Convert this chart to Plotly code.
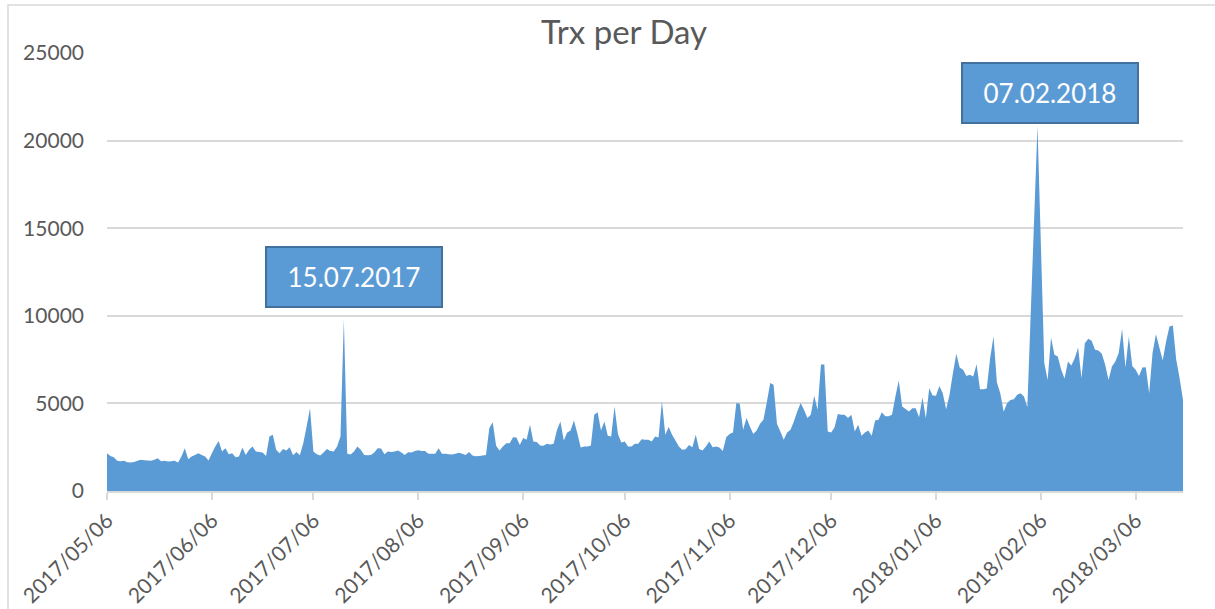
import pandas as pd
import plotly.graph_objects as go

# ---- data -------------------------------------------------------------
start_date = "2017-05-06"
# daily transaction counts (None = day missing from the series)
trx_per_day = [
    2150, 2000, 1930, 1720, 1700, 1720, 1640, 1620, 1660, 1720,
    1780, 1760, 1740, 1720, 1780, 1870, 1700, 1720, 1680, 1700,
    1720, 1620, 1970, 2440, 1810, 1970, 2060, 2160, 2060, 1970,
    1740, 2160, 2540, 2860, 2250, 2440, 2100, 2160, 1930, 1970,
    2480, 2060, 2350, 2540, 2250, 2230, 2200, 2000, 3110, 3210,
    2350, 2160, 2400, 2310, 2500, 2040, 2230, 2040, 2730, 3680,
    4730, 2250, 2100, 2020, 2200, 2400, 2290, 2250, 2540, 3110,
    9790, 2120, 2080, 2250, 2540, 2350, 2060, 2040, 2060, 2200,
    2440, 2420, 2100, 2250, 2230, 2250, 2310, 2200, 2060, 2210,
    2200, 2290, 2330, 2290, 2290, 2120, 2120, 2120, 2440, 2120,
    2120, 2100, 2080, 2120, 2180, 2120, 2060, 2230, 2020, 1990,
    2000, 2020, 2060, 3590, 3930, 2580, 2310, 2540, 2730, 2730,
    3070, 3050, 2630, 3020, 2920, 3780, 2830, 2790, 2600, 2580,
    2690, 2650, 2690, 3490, 3970, 2880, 3340, 3460, 4030, 3300,
    2480, 2540, 2540, 2600, 4350, 4490, 3460, 3970, 3150, 3110,
    4830, 3250, 2770, 2830, 2540, 2540, 2690, 2690, 2960, 2920,
    2920, 2830, 3110, 3050, 5120, 3210, 3650, 3210, 2880, 2540,
    2350, 2390, 2630, 2500, 3210, 2400, 2310, 2540, 2830, 2500,
    2540, 2480, 2290, 3070, 3250, 3340, 5020, 4980, 3490, 4160,
    3680, 3250, 3460, 3840, 4070, 5060, 6170, 6070, 3840, 3400,
    2920, 3340, 3490, 3970, 4540, 5020, 4640, 4160, 4350, 5440,
    4640, 7220, 7220, 3400, 3340, 3630, 4390, 4350, 4350, 4160,
    4350, 3400, 3780, 3150, 3340, 3460, 3150, 4030, 4070, 4490,
    4260, 4260, 4350, 5400, 6300, 4830, 4680, 4540, 4720, 4720,
    4210, 5330, 4150, 5870, 5450, 5430, 6000, 5580, 4670, 5490,
    6720, 7830, 7050, 6920, 6570, 6630, 6530, 7240, 5810, 5810,
    5850, 7580, 8820, 6190, 5580, 4530, 5010, 5200, 5240, 5490,
    5580, 5390, 4780, None, None, 20850, None, 7300, 6340, 8760,
    7770, 7680, 6920, 6420, 7390, 7160, 7580, 8190, 6440, 8440,
    8690, 8570, 8060, 8020, 7830, 7200, 6340, 7110, 7390, 7870,
    9240, 7050, 8820, 7140, 6920, 6570, 7050, 7070, 5580, 7870,
    8950, 8210, 7450, 8530, 9390, 9450, 7490, 6440, 5200,
]
tick_dates = ["2017-05-06", "2017-06-06", "2017-07-06", "2017-08-06",
              "2017-09-06", "2017-10-06", "2017-11-06", "2017-12-06",
              "2018-01-06", "2018-02-06", "2018-03-06"]
tick_labels = [d.replace("-", "/") for d in tick_dates]
y_ticks = [0, 5000, 10000, 15000, 20000, 25000]
y_tick_labels = ["0", "5000", "10000", "15000", "20000", "25000"]
chart_title = "Trx per Day"
peak_labels = ["15.07.2017", "07.02.2018"]

# ---- figure -----------------------------------------------------------
df = pd.DataFrame({
    "date": pd.date_range(start_date, periods=len(trx_per_day), freq="D"),
    "trx": trx_per_day,
}).dropna()

BLUE = "#5B9BD5"
GRID = "#D9D9D9"
TXT = "#595959"
FONT = "Lato"

fig = go.Figure(go.Scatter(
    x=df["date"], y=df["trx"], mode="none",
    fill="tozeroy", fillcolor=BLUE, hoverinfo="x+y",
))

fig.update_layout(
    width=1215, height=609,
    margin=dict(l=107, r=32, t=53, b=118, autoexpand=False),
    paper_bgcolor="white", plot_bgcolor="white",
    showlegend=False,
    font=dict(family=FONT, color=TXT, size=20),
    title=dict(text=chart_title, x=0.4805, xref="paper", xanchor="center",
               y=1 - 32 / 609, yref="container", yanchor="middle",
               font=dict(family=FONT, size=33, color=TXT)),
)
fig.update_xaxes(
    type="date", automargin=False,
    range=[df["date"].iloc[0], df["date"].iloc[-1]],
    tickvals=tick_dates, ticktext=tick_labels, tickangle=-45,
    showgrid=False, showline=True, linecolor=GRID, linewidth=2,
    ticks="outside", ticklen=7, tickwidth=2, tickcolor=GRID,
    tickfont=dict(family=FONT, size=21, color=TXT),
)
fig.update_yaxes(
    automargin=False,
    range=[0, 25000], tickvals=y_ticks, ticktext=y_tick_labels,
    showgrid=True, gridcolor=GRID, gridwidth=1.5, zeroline=False,
    showline=False, ticklabelstandoff=22,
    tickfont=dict(family=FONT, size=21, color=TXT),
)

# outer chart border
fig.add_shape(type="rect", xref="paper", yref="paper",
              x0=-0.092, x1=1.2, y0=-0.6, y1=1.1096,
              line=dict(color=GRID, width=1.5), fillcolor="rgba(0,0,0,0)",
              layer="below")

# peak callouts
for label, (px, py) in zip(peak_labels, [(0.2296, 0.4893), (0.8767, 0.909)]):
    fig.add_annotation(
        text=label, xref="paper", yref="paper", x=px, y=py,
        xanchor="center", yanchor="middle", showarrow=False,
        width=172, height=56, borderpad=1, borderwidth=2,
        bgcolor=BLUE, bordercolor="#41719C",
        font=dict(family=FONT, size=26, color="white"),
    )

# remove the default page margin so the figure fills the window exactly
fig.write_html("out.html",
               config={"displayModeBar": False},
               post_script="document.body.style.margin='0';"
                           "document.body.style.overflow='hidden';")
